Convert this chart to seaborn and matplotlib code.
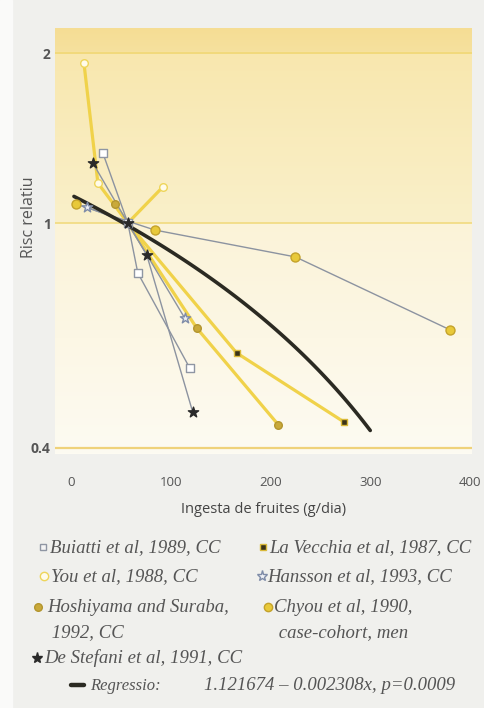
import numpy as np
import pandas as pd
import matplotlib
matplotlib.use("Agg")
import matplotlib.pyplot as plt
from matplotlib.lines import Line2D
from matplotlib.patches import Rectangle
from matplotlib.colors import to_rgb
from matplotlib.ticker import FixedLocator, NullLocator, FixedFormatter
import seaborn as sns

# ---------------- data ----------------
buiatti_x = [32, 57, 67, 119]
buiatti_y = [1.33, 1.0, 0.816, 0.554]
vecchia_x = [57, 166, 274]
vecchia_y = [1.0, 0.589, 0.444]
you_x = [13, 27, 57, 92]
you_y = [1.92, 1.177, 1.0, 1.158]
hansson_x = [16, 57, 114]
hansson_y = [1.067, 1.0, 0.679]
hoshiyama_x = [44, 57, 126, 208]
hoshiyama_y = [1.08, 1.0, 0.652, 0.439]
chyou_x = [5, 84, 225, 380]
chyou_y = [1.08, 0.972, 0.871, 0.647]
destefani_x = [22, 57, 76, 122]
destefani_y = [1.277, 1.0, 0.878, 0.463]

reg_intercept = 1.121674
reg_slope = -0.002308
reg_x_start, reg_x_end = 3, 300

x_ticks = [0, 100, 200, 300, 400]
y_ticks = [0.4, 1, 2]
y_ticklabels = ["0.4", "1", "2"]

legend_labels = {
    "buiatti": ["Buiatti et al, 1989, CC"],
    "vecchia": ["La Vecchia et al, 1987, CC"],
    "you": ["You et al, 1988, CC"],
    "hansson": ["Hansson et al, 1993, CC"],
    "hoshiyama": ["Hoshiyama and Suraba,", " 1992, CC"],
    "chyou": ["Chyou et al, 1990,", " case-cohort, men"],
    "destefani": ["De Stefani et al, 1991, CC"],
}
reg_label_a = "Regressio:"
reg_label_b = "1.121674 \u2013 0.002308x, p=0.0009"

# ---------------- style ----------------
sns.set_style("white")
plt.rcParams["font.family"] = ["Open Sans", "DejaVu Sans"]

YELLOW = "#F0D24A"
GREY = "#8C93A0"

series = [
    # key, x, y, line color, lw, marker, size, face, edge, line zorder
    ("you", you_x, you_y, YELLOW, 2.3, "o", 30, "#FFFBEA", "#EED55A", 2),
    ("hoshiyama", hoshiyama_x, hoshiyama_y, YELLOW, 2.3, "o", 30, "#C9A93A", "#B3952E", 2),
    ("vecchia", vecchia_x, vecchia_y, YELLOW, 2.3, "s", 24, "#3B3318", "#D9B93A", 2),
    ("chyou", chyou_x, chyou_y, GREY, 1.0, "o", 42, "#E8C93A", "#C4A22A", 2.5),
    ("hansson", hansson_x, hansson_y, GREY, 1.0, "*", 60, "#EEF0F5", "#7F8CA8", 2.5),
    ("buiatti", buiatti_x, buiatti_y, GREY, 1.0, "s", 28, "#FFFFFF", "#8F96A3", 2.5),
    ("destefani", destefani_x, destefani_y, GREY, 1.0, "*", 60, "#2A2A2A", "#2A2A2A", 2.5),
]

W, H = 484, 708
fig = plt.figure(figsize=(W / 100, H / 100), dpi=100, facecolor="#F0F0ED")
fig.add_artist(Rectangle((0, 0), 12 / W, 1, transform=fig.transFigure,
                         color="#FAFAF9", zorder=-5))

ax_l, ax_r, ax_t, ax_b = 55, 472, 28, 454
ax = fig.add_axes([ax_l / W, 1 - ax_b / H, (ax_r - ax_l) / W, (ax_b - ax_t) / H])

# background gradient
def lerp(c1, c2, n):
    a = np.array(to_rgb(c1)); b = np.array(to_rgb(c2))
    t = np.linspace(0, 1, n)[:, None]
    return a + (b - a) * t

grad = np.concatenate([
    lerp("#F5DD94", "#F6E19E", 24),
    lerp("#F8E7AE", "#FAF0CA", 171),
    lerp("#FBF3D8", "#FDFBF2", 231),
])[:, None, :]

for k, xs, ys, lc, lw, mk, ms, fc, ec, z in series:
    sns.lineplot(x=xs, y=ys, ax=ax, color=lc, lw=lw, sort=False,
                 estimator=None, zorder=z, legend=False)

reg_x = np.linspace(reg_x_start, reg_x_end, 80)
reg_y = reg_intercept + reg_slope * reg_x
sns.lineplot(x=reg_x, y=reg_y, ax=ax, color="#2B2A22", lw=2.6, sort=False,
             estimator=None, zorder=3, legend=False)

for k, xs, ys, lc, lw, mk, ms, fc, ec, z in series:
    sns.scatterplot(x=xs, y=ys, ax=ax, marker=mk, s=ms, color=fc,
                    edgecolor=ec, linewidth=1.0, zorder=4, legend=False)

ax.set_yscale("log")
ax.imshow(grad, extent=[0, 1, 0, 1], transform=ax.transAxes, aspect="auto",
          zorder=0, interpolation="bilinear")
ax.set_xlim(-16, 402)
ax.set_ylim(0.39, 2.215)

ax.axhline(2, color="#F1D877", lw=1.3, zorder=1)
ax.axhline(1, color="#F2DC85", lw=1.3, zorder=1)
ax.axhline(0.4, color="#EFD27A", lw=1.6, zorder=1)

for s in ax.spines.values():
    s.set_visible(False)

ax.yaxis.set_major_locator(FixedLocator(y_ticks))
ax.yaxis.set_major_formatter(FixedFormatter(y_ticklabels))
ax.yaxis.set_minor_locator(NullLocator())
ax.set_xticks(x_ticks)
ax.set_xticklabels([str(v) for v in x_ticks])
ax.tick_params(axis="y", length=0, pad=3, labelsize=10, labelcolor="#555555")
for t in ax.get_yticklabels():
    t.set_fontweight("bold")
ax.tick_params(axis="x", direction="out", length=7, width=1.2, color="#DCCB8C",
               pad=9, labelsize=9.5, labelcolor="#555555")

ax.set_xlabel("Ingesta de fruites (g/dia)", fontsize=10.5, color="#444444", labelpad=9)
ax.set_ylabel("")
fig.text(29 / W, 1 - 217 / H, "Risc relatiu", rotation=90, ha="center",
         va="center", fontsize=11.5, color="#555555")

# ---------------- legend (manual layout) ----------------
serif = dict(family=["Liberation Serif", "DejaVu Serif"], style="italic",
             size=13.5, color="#555555")

def fx(px):
    return px / W

def fy(py):
    return 1 - py / H

leg_items = [
    # key, marker x, y, text x, marker, ms, face, edge
    ("buiatti", 43, 547, 50, "s", 5, "#F4F4F4", "#8F96A3"),
    ("vecchia", 263, 547, 269, "s", 5, "#3B3318", "#D9B93A"),
    ("you", 44, 576, 51, "o", 6, "#FFFBEA", "#EED55A"),
    ("hansson", 262, 576, 267, "*", 8, "#EEF0F5", "#7F8CA8"),
    ("hoshiyama", 38, 607, 47, "o", 5.5, "#C9A93A", "#B3952E"),
    ("chyou", 268, 607, 274, "o", 6, "#E8C93A", "#C4A22A"),
    ("destefani", 37, 658, 44, "*", 8, "#2A2A2A", "#2A2A2A"),
]
line_gap = 25
for k, mx, my, tx, mk, ms, fc, ec in leg_items:
    fig.add_artist(Line2D([fx(mx)], [fy(my)], transform=fig.transFigure,
                          marker=mk, markersize=ms, markerfacecolor=fc,
                          markeredgecolor=ec, linestyle="none"))
    for i, line in enumerate(legend_labels[k]):
        fig.text(fx(tx), fy(my + 5 + i * line_gap), line, ha="left",
                 va="baseline", fontdict=serif)

fig.add_artist(Line2D([fx(71), fx(84)], [fy(685), fy(685)],
                      transform=fig.transFigure, color="#2B2A22", lw=3.2))
fig.text(fx(90), fy(690), reg_label_a, ha="left", va="baseline",
         fontdict=dict(serif, size=12))
fig.text(fx(455), fy(690), reg_label_b, ha="right", va="baseline",
         fontdict=dict(serif, size=13.5))

fig.savefig("out.png", dpi=100, facecolor=fig.get_facecolor())
